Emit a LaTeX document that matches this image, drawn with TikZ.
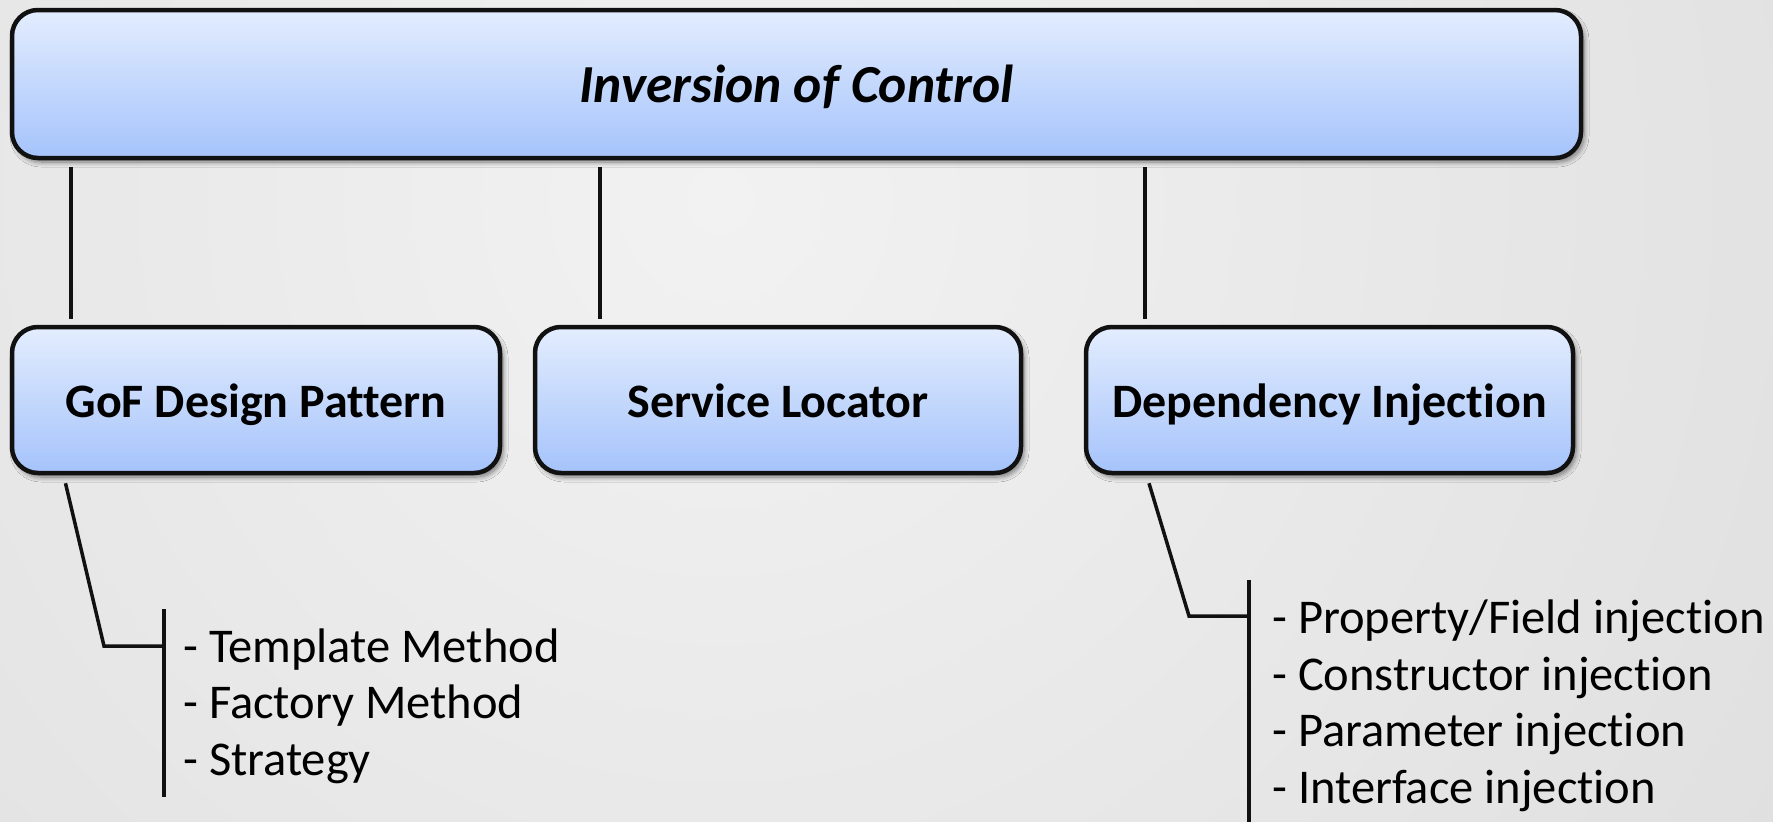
\documentclass[tikz,border=0pt]{standalone}
\usepackage{fontspec}
\setmainfont[RawFeature=-liga]{Carlito}
\usetikzlibrary{shadows.blur}
\definecolor{boxtop}{HTML}{E3EDFE}
\definecolor{boxbot}{HTML}{A5C3FB}
\definecolor{bginner}{HTML}{F2F2F2}
\definecolor{bgouter}{HTML}{CCCCCC}
\definecolor{ink}{HTML}{111111}
\begin{document}
\begin{tikzpicture}[x=1pt,y=-1pt,
  box/.style={rectangle, rounded corners=26pt, draw=ink, line width=4.5pt,
    top color=boxtop, bottom color=boxbot, inner sep=0pt,
    blur shadow={shadow xshift=3pt, shadow yshift=-4pt, shadow blur steps=8, shadow opacity=50, shadow blur radius=5pt}},
  childbox/.style={box, minimum height=146pt, text height=34pt, text depth=0pt,
    font=\fontsize{48}{56}\selectfont\bfseries},
  link/.style={line width=3.5pt, draw=ink},
  listtext/.style={anchor=north west, inner sep=0pt, align=left, font=\fontsize{48.5}{56.5}\selectfont}]
% canvas and background
\useasboundingbox (0,0) rectangle (1773,822);
\begin{scope}
  \clip (0,0) rectangle (1773,822);
  \fill[bgouter] (0,0) rectangle (1773,822);
  \shade[inner color=bginner, outer color=bgouter] (720,200) circle (2600);
\end{scope}

% boxes
\node[box, minimum width=1569pt, minimum height=148pt, text height=36pt, text depth=0pt,
  font=\fontsize{53.5}{62}\selectfont\bfseries\itshape] (top) at (796.5,84) {Inversion of Control};
\node[childbox, minimum width=488pt] (gof) at (256,400) {GoF Design Pattern};
\node[childbox, minimum width=486pt] (sl) at (778,400) {Service Locator};
\node[childbox, minimum width=487pt] (di) at (1329.5,400) {Dependency Injection};

% connectors from the root
\coordinate (c1) at (71,0);
\coordinate (c2) at (600,0);
\coordinate (c3) at (1145,0);
\draw[link] ([yshift=-7pt]top.south -| c1) -- ([yshift=6pt]gof.north -| c1);
\draw[link] ([yshift=-7pt]top.south -| c2) -- ([yshift=6pt]sl.north -| c2);
\draw[link] ([yshift=-7pt]top.south -| c3) -- ([yshift=6pt]di.north -| c3);

% pattern list
\node[listtext] (gofl) at (183,628.5) {- Template Method\\- Factory Method\\- Strategy};
\coordinate (g0) at (65.5,0);
\coordinate (gj) at (104,646);
\coordinate (gb) at (164,646);
\coordinate (gbt) at (164,609);
\coordinate (gbb) at (164,797);
\draw[link] ([yshift=-8pt]gof.south -| g0) -- (gj) -- (gb);
\draw[link] (gbt) -- (gbb);

% injection list
\node[listtext] (dil) at (1272,600) {- Property/Field injection\\- Constructor injection\\- Parameter injection\\- Interface injection};
\coordinate (d0) at (1149,0);
\coordinate (dj) at (1189,616);
\coordinate (db) at (1249,616);
\coordinate (dbt) at (1249,580);
\coordinate (dbb) at (1249,830);
\draw[link] ([yshift=-8pt]di.south -| d0) -- (dj) -- (db);
\draw[link] (dbt) -- (dbb);
\end{tikzpicture}
\end{document}
